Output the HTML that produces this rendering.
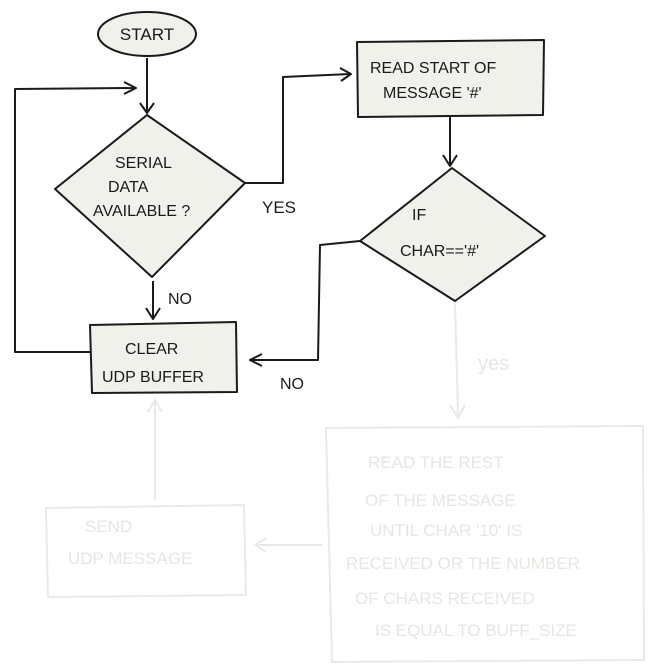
<!DOCTYPE html>
<html><head><meta charset="utf-8"><style>
html,body{margin:0;padding:0;background:#fff;}
svg{display:block;}
text{font-family:"Liberation Sans",sans-serif;}
</style></head><body>
<svg width="653" height="668" viewBox="0 0 653 668" xmlns="http://www.w3.org/2000/svg">
<g fill="none" stroke="#e9e9e6" stroke-width="2">
  <path d="M455 302 L458 415"/>
  <path d="M450 405 L458 418 L465 405"/>
  <path d="M326 428 L643 426 L644 660 L332 662 Z"/>
  <path d="M46 508 L244 505 L246 595 L48 597 Z"/>
  <path d="M322 545 L256 545"/>
  <path d="M266 538 L255 545 L266 552"/>
  <path d="M155 500 L155 402"/>
  <path d="M148 412 L155 400 L162 412"/>
</g>
<g fill="#e6e6e2" font-size="17">
  <text x="478" y="370" font-size="20">yes</text>
  <text x="368" y="468">READ THE REST</text>
  <text x="365" y="506">OF THE MESSAGE</text>
  <text x="370" y="536">UNTIL CHAR '10' IS</text>
  <text x="346" y="569">RECEIVED OR THE NUMBER</text>
  <text x="355" y="604">OF CHARS RECEIVED</text>
  <text x="375" y="636">IS EQUAL TO BUFF_SIZE</text>
  <text x="85" y="532">SEND</text>
  <text x="68" y="564">UDP MESSAGE</text>
</g>
<g stroke="#1a1a1a" stroke-width="2" fill="none" stroke-linejoin="round">
  <ellipse cx="147" cy="34" rx="49" ry="22" fill="#eff1ea"/>
  <path d="M147 58 L147 112"/><path d="M140 103 L147 113 L154 103"/>
  <path d="M90 352 L15 352 L15 89 L135 88"/><path d="M124 82 L136 88 L124 94"/>
  <path d="M147 115 L245 183 L152 277 L55 189 Z" fill="#eff1ea"/>
  <path d="M153 281 L153 318"/><path d="M146 308 L153 319 L160 308"/>
  <path d="M90 325 L236 322 L237 392 L92 393 Z" fill="#eff1ea"/>
  <path d="M245 183 L283 183 L283 77 L350 74"/><path d="M340 68 L351 74 L341 81"/>
  <path d="M357 42 L544 40 L543 115 L358 117 Z" fill="#eff1ea"/>
  <path d="M450 115 L450 164"/><path d="M443 155 L450 166 L457 155"/>
  <path d="M452 168 L545 236 L455 301 L360 241 Z" fill="#eff1ea"/>
  <path d="M360 241 L320 245 L318 360 L250 360"/><path d="M262 354 L250 360 L262 366"/>
</g>
<g fill="#1a1a1a" font-size="16">
  <text x="147" y="40" text-anchor="middle" font-size="17">START</text>
  <text x="115" y="168">SERIAL</text>
  <text x="108" y="192">DATA</text>
  <text x="93" y="216">AVAILABLE ?</text>
  <text x="168" y="304">NO</text>
  <text x="125" y="354">CLEAR</text>
  <text x="102" y="382">UDP BUFFER</text>
  <text x="262" y="213" font-size="17">YES</text>
  <text x="370" y="73">READ START OF</text>
  <text x="383" y="98">MESSAGE '#'</text>
  <text x="412" y="220">IF</text>
  <text x="400" y="256">CHAR=='#'</text>
  <text x="280" y="389">NO</text>
</g>
</svg>
</body></html>
